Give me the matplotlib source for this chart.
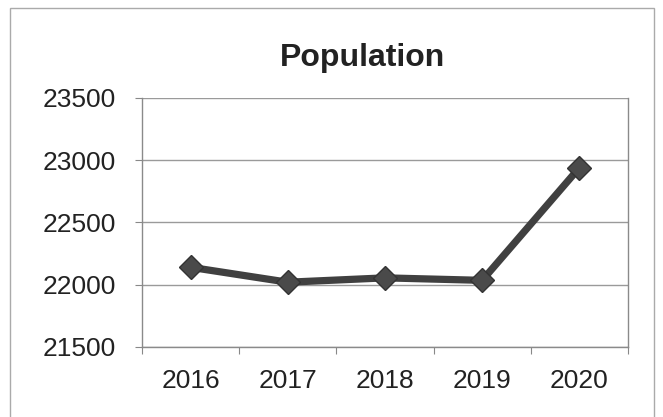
import matplotlib.pyplot as plt
from matplotlib.patches import Rectangle

years = ["2016", "2017", "2018", "2019", "2020"]
population = [22140, 22020, 22055, 22035, 22940]
y_ticks = [21500, 22000, 22500, 23000, 23500]

plt.rcParams["font.family"] = ["Liberation Sans", "DejaVu Sans"]

fig = plt.figure(figsize=(6.63, 4.17), dpi=100)
ax = fig.add_axes([0.2142, 0.168, 0.733, 0.597])

x = list(range(len(years)))
ax.plot(x, population, color="#404040", lw=5.2, marker="D", ms=12.5,
        mfc="#4a4a4a", mec="#333333", mew=1.0, zorder=3)

ax.set_xlim(-0.5, len(years) - 0.5)
ax.set_ylim(y_ticks[0], y_ticks[-1])
ax.set_yticks(y_ticks)
ax.set_yticklabels([str(v) for v in y_ticks], fontsize=19, color="#222222")
ax.yaxis.grid(True, color="#9a9a9a", lw=1.0)
ax.set_axisbelow(True)

# tick marks sit between categories, labels at the centres
ax.set_xticks([i - 0.5 for i in range(len(years) + 1)])
ax.set_xticklabels([])
ax.set_xticks(x, minor=True)
ax.set_xticklabels(years, minor=True, fontsize=19, color="#222222")
ax.tick_params(axis="x", which="minor", length=0, pad=16)
ax.tick_params(axis="x", which="major", length=5, color="#888888", direction="out")
ax.tick_params(axis="y", length=5, color="#888888", pad=13.5)

for side in ["left", "bottom", "right"]:
    ax.spines[side].set_color("#8a8a8a")
    ax.spines[side].set_linewidth(1.0)
ax.spines["top"].set_visible(False)

fig.text(0.547, 0.862, "Population", ha="center", va="center",
         fontsize=23, fontweight="bold", color="#222222")

fig.patches.append(Rectangle((0.015, -0.05), 0.972, 1.03, transform=fig.transFigure,
                             fill=False, edgecolor="#aaaaaa", lw=1.0))

fig.savefig("out.png", dpi=100)
